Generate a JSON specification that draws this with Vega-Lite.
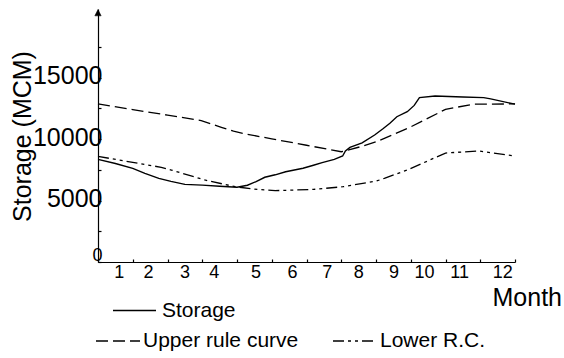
{
  "$schema": "https://vega.github.io/schema/vega-lite/v6.json",
  "width": 417,
  "height": 253,
  "autosize": "none",
  "padding": {"left": 98, "top": 9, "right": 49, "bottom": 96},
  "background": "white",
  "config": {"view": {"stroke": null}, "font": "Liberation Sans"},
  "resolve": {"axis": {"x": "independent", "y": "independent"}},
  "layer": [
    {
      "data": {"values": [
        {"t": 0, "value": 8360, "series": "Storage"},
        {"t": 0.5, "value": 8020, "series": "Storage"},
        {"t": 1.0, "value": 7620, "series": "Storage"},
        {"t": 1.35, "value": 7220, "series": "Storage"},
        {"t": 1.75, "value": 6810, "series": "Storage"},
        {"t": 2.1, "value": 6560, "series": "Storage"},
        {"t": 2.5, "value": 6320, "series": "Storage"},
        {"t": 3.0, "value": 6260, "series": "Storage"},
        {"t": 3.5, "value": 6170, "series": "Storage"},
        {"t": 4.0, "value": 6090, "series": "Storage"},
        {"t": 4.3, "value": 6250, "series": "Storage"},
        {"t": 4.55, "value": 6550, "series": "Storage"},
        {"t": 4.8, "value": 6900, "series": "Storage"},
        {"t": 5.1, "value": 7100, "series": "Storage"},
        {"t": 5.4, "value": 7350, "series": "Storage"},
        {"t": 5.9, "value": 7630, "series": "Storage"},
        {"t": 6.2, "value": 7880, "series": "Storage"},
        {"t": 6.45, "value": 8090, "series": "Storage"},
        {"t": 6.8, "value": 8350, "series": "Storage"},
        {"t": 7.04, "value": 8630, "series": "Storage"},
        {"t": 7.12, "value": 9050, "series": "Storage"},
        {"t": 7.25, "value": 9330, "series": "Storage"},
        {"t": 7.6, "value": 9700, "series": "Storage"},
        {"t": 7.96, "value": 10340, "series": "Storage"},
        {"t": 8.2, "value": 10850, "series": "Storage"},
        {"t": 8.4, "value": 11300, "series": "Storage"},
        {"t": 8.6, "value": 11830, "series": "Storage"},
        {"t": 8.9, "value": 12240, "series": "Storage"},
        {"t": 9.1, "value": 12750, "series": "Storage"},
        {"t": 9.25, "value": 13380, "series": "Storage"},
        {"t": 9.7, "value": 13520, "series": "Storage"},
        {"t": 10.5, "value": 13440, "series": "Storage"},
        {"t": 11.1, "value": 13380, "series": "Storage"},
        {"t": 11.3, "value": 13280, "series": "Storage"},
        {"t": 12.0, "value": 12850, "series": "Storage"},
        {"t": 0, "value": 12870, "series": "Upper rule curve"},
        {"t": 1, "value": 12410, "series": "Upper rule curve"},
        {"t": 2, "value": 11960, "series": "Upper rule curve"},
        {"t": 2.97, "value": 11510, "series": "Upper rule curve"},
        {"t": 3.55, "value": 10970, "series": "Upper rule curve"},
        {"t": 3.9, "value": 10650, "series": "Upper rule curve"},
        {"t": 4.2, "value": 10450, "series": "Upper rule curve"},
        {"t": 5.0, "value": 10030, "series": "Upper rule curve"},
        {"t": 6.0, "value": 9505, "series": "Upper rule curve"},
        {"t": 7.0, "value": 8980, "series": "Upper rule curve"},
        {"t": 7.6, "value": 9420, "series": "Upper rule curve"},
        {"t": 8.0, "value": 9780, "series": "Upper rule curve"},
        {"t": 8.24, "value": 10070, "series": "Upper rule curve"},
        {"t": 9.0, "value": 11000, "series": "Upper rule curve"},
        {"t": 10.0, "value": 12430, "series": "Upper rule curve"},
        {"t": 10.8, "value": 12850, "series": "Upper rule curve"},
        {"t": 12.0, "value": 12870, "series": "Upper rule curve"},
        {"t": 0, "value": 8600, "series": "Lower R.C."},
        {"t": 1, "value": 8110, "series": "Lower R.C."},
        {"t": 1.82, "value": 7710, "series": "Lower R.C."},
        {"t": 2.11, "value": 7490, "series": "Lower R.C."},
        {"t": 3.07, "value": 6680, "series": "Lower R.C."},
        {"t": 3.95, "value": 6130, "series": "Lower R.C."},
        {"t": 4.5, "value": 5930, "series": "Lower R.C."},
        {"t": 5.1, "value": 5810, "series": "Lower R.C."},
        {"t": 6.2, "value": 5910, "series": "Lower R.C."},
        {"t": 7.05, "value": 6130, "series": "Lower R.C."},
        {"t": 8.0, "value": 6580, "series": "Lower R.C."},
        {"t": 8.24, "value": 6810, "series": "Lower R.C."},
        {"t": 8.9, "value": 7490, "series": "Lower R.C."},
        {"t": 10.0, "value": 8870, "series": "Lower R.C."},
        {"t": 10.95, "value": 9040, "series": "Lower R.C."},
        {"t": 12.0, "value": 8630, "series": "Lower R.C."}
      ]},
      "encoding": {
        "x": {
          "field": "t", "type": "quantitative",
          "scale": {"domain": [0, 12], "nice": false, "zero": false},
          "axis": {
            "values": [0, 1, 2, 3, 4, 5, 6, 7, 8, 9, 10, 11, 12, 0.6, 1.44, 2.49, 3.33, 4.53, 5.58, 6.58, 7.49, 8.5, 9.38, 10.39, 11.63],
            "labelExpr": "datum.value % 1 == 0 ? '' : '' + round(datum.value + 0.5)",
            "grid": false,
            "domainColor": "black", "domainWidth": 1.2,
            "tickColor": "black", "tickSize": -3, "tickWidth": 1.2,
            "tickOpacity": {"condition": {"test": "datum.value % 1 == 0", "value": 1}, "value": 0},
            "labelFont": "Liberation Sans", "labelFontSize": 18, "labelColor": "black",
            "labelPadding": 4, "labelOverlap": false, "labelFlush": false, "labelBound": false,
            "title": "Month", "titleFont": "Liberation Sans", "titleFontSize": 25, "titleFontWeight": "normal",
            "titleColor": "black", "titleAlign": "left", "titleBaseline": "alphabetic", "titleAnchor": "start",
            "titleX": 394, "titleY": 43
          }
        },
        "y": {
          "field": "value", "type": "quantitative",
          "scale": {"domain": [0, 20600], "nice": false},
          "axis": {
            "values": [0, 2500, 5000, 7500, 10000, 12500, 15000, 17500],
            "labelExpr": "datum.value == 0 ? '0\u00a0\u00a0' : (datum.value % 5000 == 0 ? '' + datum.value : '')",
            "grid": false,
            "domainColor": "black", "domainWidth": 1.2,
            "tickColor": "black", "tickSize": -3, "tickWidth": 1.2,
            "labelFont": "Liberation Sans", "labelColor": "black",
            "labelFontSize": {"condition": {"test": "datum.value == 0", "value": 18}, "value": 25},
            "labelOffset": {"condition": {"test": "datum.value == 0", "value": -7}, "value": -2},
            "labelPadding": -1,
            "labelOverlap": false, "labelFlush": false, "labelBound": false,
            "title": "Storage (MCM)", "titleFont": "Liberation Sans", "titleFontSize": 25, "titleFontWeight": "normal",
            "titleColor": "black", "titleAngle": -90, "titleAlign": "center", "titleBaseline": "alphabetic",
            "titleX": -68, "titleY": 127
          }
        }
      },
      "layer": [
        {
          "transform": [{"filter": "datum.series == 'Storage'"}],
          "mark": {"type": "line", "strokeWidth": 1.4},
          "encoding": {
            "color": {
              "field": "series", "type": "nominal",
              "scale": {"domain": ["Storage"], "range": ["black"]},
              "legend": {
                "title": null, "orient": "none", "legendX": 14, "legendY": 279,
                "symbolType": "stroke", "symbolSize": 1849, "symbolStrokeWidth": 1.6,
                "labelFont": "Liberation Sans", "labelFontSize": 21, "labelColor": "black", "labelOffset": 5
              }
            }
          }
        },
        {
          "transform": [{"filter": "datum.series != 'Storage'"}],
          "mark": {"type": "line", "strokeWidth": 1.3, "color": "black"},
          "encoding": {
            "strokeDash": {
              "field": "series", "type": "nominal",
              "scale": {"domain": ["Upper rule curve", "Lower R.C."], "range": [[12, 5], [11, 4, 3, 4, 3, 4]]},
              "legend": {
                "title": null, "orient": "none", "legendX": -3, "legendY": 309,
                "direction": "horizontal", "columns": 2, "columnPadding": 30,
                "symbolType": "stroke", "symbolSize": 1936, "symbolStrokeWidth": 1.6, "symbolStrokeColor": "black",
                "labelFont": "Liberation Sans", "labelFontSize": 21, "labelColor": "black", "labelOffset": 2
              }
            }
          }
        }
      ]
    },
    {
      "data": {"values": [{"item": "arrowhead"}]},
      "mark": {"type": "point", "shape": "M0,-1L1,1L-1,1Z", "filled": true, "fill": "black", "stroke": "black", "strokeWidth": 0.5, "size": 40, "opacity": 1, "clip": false},
      "encoding": {
        "x": {"datum": 0, "type": "quantitative", "axis": null},
        "y": {"datum": 20300, "type": "quantitative", "axis": null}
      }
    }
  ]
}
